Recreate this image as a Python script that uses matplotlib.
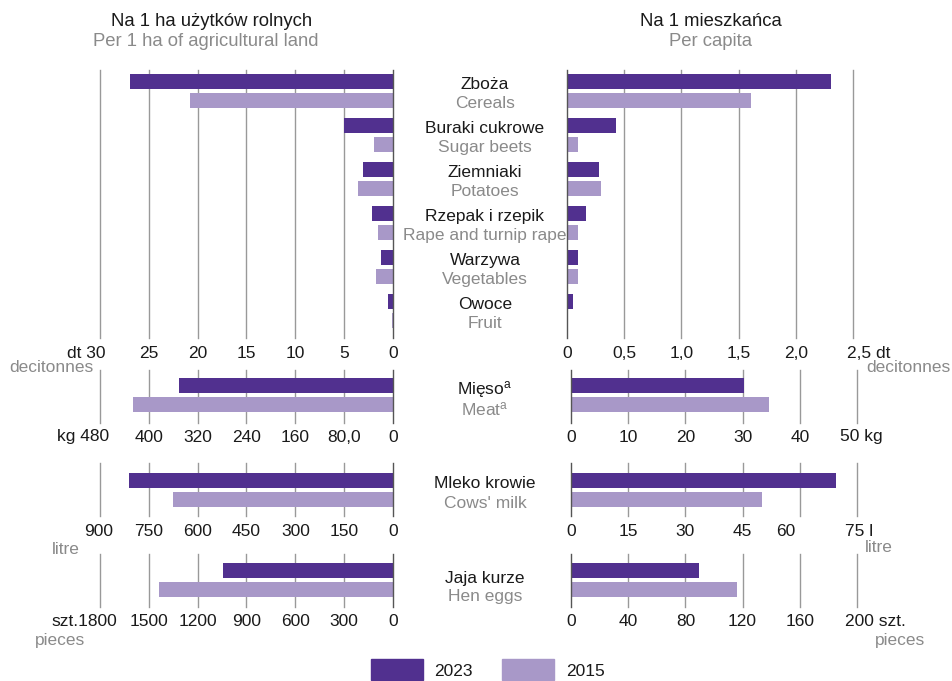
import matplotlib
matplotlib.use("Agg")
import matplotlib.pyplot as plt
from matplotlib.patches import Rectangle
import numpy as np

plt.rcParams['font.family'] = ['Liberation Sans', 'DejaVu Sans']
plt.rcParams['mathtext.fontset'] = 'custom'
plt.rcParams['mathtext.rm'] = 'Liberation Sans'
plt.rcParams['mathtext.it'] = 'Liberation Sans'

# ---------------- data ----------------
years = ["2023", "2015"]
crops_pl = ["Zboża", "Buraki cukrowe", "Ziemniaki", "Rzepak i rzepik", "Warzywa", "Owoce"]
crops_en = ["Cereals", "Sugar beets", "Potatoes", "Rape and turnip rape", "Vegetables", "Fruit"]
crops_ha_2023 = [26.9, 5.0, 3.1, 2.2, 1.2, 0.5]
crops_ha_2015 = [20.8, 1.9, 3.6, 1.5, 1.7, 0.15]
crops_cap_2023 = [2.31, 0.43, 0.28, 0.17, 0.10, 0.05]
crops_cap_2015 = [1.61, 0.10, 0.30, 0.10, 0.10, 0.01]

meat_ha = [351, 426]      # 2023, 2015
meat_cap = [30.2, 34.7]
milk_ha = [811, 675]
milk_cap = [69.5, 50.1]
eggs_ha = [1044, 1437]
eggs_cap = [89.5, 116]

ticks_crops_ha = [0, 5, 10, 15, 20, 25, 30]
labels_crops_ha = ["0", "5", "10", "15", "20", "25", "dt 30"]
ticks_crops_cap = [0, 0.5, 1.0, 1.5, 2.0, 2.5]
labels_crops_cap = ["0", "0,5", "1,0", "1,5", "2,0", "2,5 dt"]
ticks_meat_ha = [0, 80, 160, 240, 320, 400, 480]
labels_meat_ha = ["0", "80,0", "160", "240", "320", "400", "kg 480"]
ticks_meat_cap = [0, 10, 20, 30, 40, 50]
labels_meat_cap = ["0", "10", "20", "30", "40", "50 kg"]
ticks_milk_ha = [0, 150, 300, 450, 600, 750, 900]
labels_milk_ha = ["0", "150", "300", "450", "600", "750", "900"]
ticks_milk_cap = [0, 15, 30, 45, 60, 75]
labels_milk_cap = ["0", "15", "30", "45", "60", "75 l"]
ticks_eggs_ha = [0, 300, 600, 900, 1200, 1500, 1800]
labels_eggs_ha = ["0", "300", "600", "900", "1200", "1500", "szt.1800"]
ticks_eggs_cap = [0, 40, 80, 120, 160, 200]
labels_eggs_cap = ["0", "40", "80", "120", "160", "200 szt."]

# ---------------- style ----------------
W, H = 953, 681
C23 = "#51308f"
C15 = "#a898c8"
GRID = "#999999"
ZERO = "#555555"
BLACK = "#1a1a1a"
GREY = "#8a8a8a"
FS = 12.5
FT = 13.3

fig = plt.figure(figsize=(W / 100, H / 100), dpi=100)

def ax_px(x0, x1, y0, y1):
    return fig.add_axes([x0 / W, 1 - y1 / H, (x1 - x0) / W, (y1 - y0) / H])

def ftext(x, y, s, **kw):
    kw.setdefault("fontsize", FS)
    kw.setdefault("va", "center")
    fig.text(x / W, 1 - y / H, s, **kw)

PX = 44.0  # pixels per y unit
OFF = 0.218
BH = 0.35

def panel(x0, x1, y0, y1, ycenter, vals23, vals15, xmax, ticks, labels, left,
          label_y, label_shift):
    ax = ax_px(x0, x1, y0, y1)
    n = len(vals23)
    pos = np.arange(n)
    ax.barh(pos - OFF, vals23, height=BH, color=C23, zorder=3)
    ax.barh(pos + OFF, vals15, height=BH, color=C15, zorder=3)
    ax.set_ylim((y1 - ycenter) / PX, (y0 - ycenter) / PX)
    if left:
        ax.set_xlim(xmax, 0)
    else:
        ax.set_xlim(0, xmax)
    ax.set_xticks([])
    ax.set_yticks([])
    for t in ticks:
        ax.axvline(t, color=ZERO if t == 0 else GRID, lw=1.0,
                   zorder=4 if t == 0 else 1, clip_on=False)
    # tick labels (drawn as text so the end labels can carry the unit)
    for t, lab in zip(ticks, labels):
        xp = x0 + (x1 - x0) * (t / xmax if not left else 1 - t / xmax)
        xp += label_shift.get(t, 0)
        if t == xmax and " " in lab or t == xmax and lab.startswith("szt."):
            # unit-bearing end label
            if left:
                ftext(xp + label_shift.get("end", 0), label_y, lab, ha="right", color=BLACK)
            else:
                ftext(xp + label_shift.get("end", 0), label_y, lab, ha="left", color=BLACK)
        else:
            ftext(xp, label_y, lab, ha="center", color=BLACK)
    for s in ax.spines.values():
        s.set_visible(False)
    ax.set_facecolor("none")
    return ax

# crops
panel(100, 393, 70, 338, 91, crops_ha_2023, crops_ha_2015, 30, ticks_crops_ha, labels_crops_ha, True,
      353, {"end": 6})
panel(567, 853, 70, 338, 91, crops_cap_2023, crops_cap_2015, 2.5, ticks_crops_cap, labels_crops_cap, False,
      353, {"end": -6})
# meat
panel(100, 393, 370, 423, 395, meat_ha[:1], meat_ha[1:], 480, ticks_meat_ha, labels_meat_ha, True,
      437, {"end": 9, 80: 0})
panel(571, 857, 370, 423, 395, meat_cap[:1], meat_cap[1:], 50, ticks_meat_cap, labels_meat_cap, False,
      437, {"end": -17})
# milk
panel(100, 393, 463, 516, 490, milk_ha[:1], milk_ha[1:], 900, ticks_milk_ha, labels_milk_ha, True,
      532, {900: -1})
panel(571, 857, 463, 516, 490, milk_cap[:1], milk_cap[1:], 75, ticks_milk_cap, labels_milk_cap, False,
      531, {60: -14, "end": -12})
# eggs
panel(100, 393, 554, 607, 580, eggs_ha[:1], eggs_ha[1:], 1800, ticks_eggs_ha, labels_eggs_ha, True,
      622, {"end": 17})
panel(571, 857, 554, 607, 580, eggs_cap[:1], eggs_cap[1:], 200, ticks_eggs_cap, labels_eggs_cap, False,
      622, {"end": -12})

# titles
ftext(212, 22, "Na 1 ha użytków rolnych", ha="center", fontsize=FT, color=BLACK)
ftext(206, 41, "Per 1 ha of agricultural land", ha="center", fontsize=FT, color=GREY)
ftext(711, 22, "Na 1 mieszkańca", ha="center", fontsize=FT, color=BLACK)
ftext(711, 41, "Per capita", ha="center", fontsize=FT, color=GREY)

# center category labels
CX = 485
DY = 3
for i, (pl, en) in enumerate(zip(crops_pl, crops_en)):
    yc = 91 + PX * i
    ftext(CX, yc - PX * OFF + DY, pl, ha="center", color=BLACK)
    ftext(CX, yc + PX * OFF + DY, en, ha="center", color=GREY)
ftext(CX, 390, r"Mięso$^{\mathrm{a}}$", ha="center", color=BLACK)
ftext(CX, 409, r"Meat$^{\mathrm{a}}$", ha="center", color=GREY)
ftext(CX, 484, "Mleko krowie", ha="center", color=BLACK)
ftext(CX, 503, "Cows' milk", ha="center", color=GREY)
ftext(CX, 578, "Jaja kurze", ha="center", color=BLACK)
ftext(CX, 597, "Hen eggs", ha="center", color=GREY)

# english unit names
ftext(9, 367, "decitonnes", ha="left", color=GREY)
ftext(951, 367, "decitonnes", ha="right", color=GREY)
ftext(52, 549, "litre", ha="left", color=GREY)
ftext(865, 547, "litre", ha="left", color=GREY)
ftext(35, 640, "pieces", ha="left", color=GREY)
ftext(875, 640, "pieces", ha="left", color=GREY)

# legend
for (x0, tx, col, lab) in [(371, 434, C23, years[0]), (502, 566, C15, years[1])]:
    fig.patches.append(Rectangle((x0 / W, 1 - 680 / H), 52 / W, 21 / H,
                                 transform=fig.transFigure, color=col))
    ftext(tx, 671, lab, ha="left", color=BLACK)

fig.savefig("out.png", dpi=100)
